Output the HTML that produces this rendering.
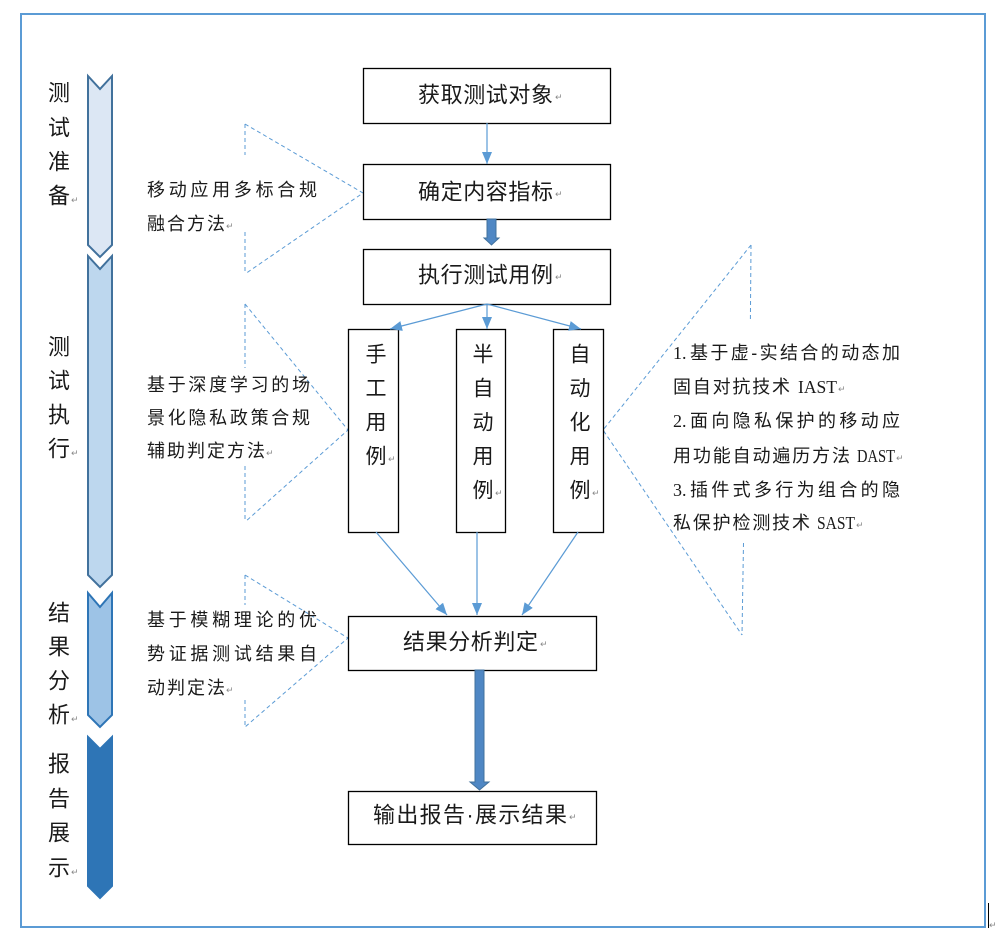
<!DOCTYPE html>
<html>
<head>
<meta charset="utf-8">
<style>
  html, body { margin: 0; padding: 0; background: #ffffff; }
  svg { display: block; }
  .cjk { font-family: "Liberation Sans", "Noto Sans CJK SC", sans-serif; fill: #1a1a1a; }
  .ser { font-family: "Liberation Serif", "Noto Sans CJK SC", serif; fill: #1a1a1a; }
  .ret { font-family: "DejaVu Sans", sans-serif; fill: #888; font-size: 9px; }
</style>
</head>
<body>
<svg width="1001" height="941" viewBox="0 0 1001 941" xmlns="http://www.w3.org/2000/svg">
  <defs>
    <marker id="ah" markerUnits="userSpaceOnUse" markerWidth="12" markerHeight="10" refX="12" refY="5" orient="auto">
      <path d="M0,0 L12,5 L0,10 z" fill="#5b9bd5"/>
    </marker>
  </defs>

  <!-- outer frame -->
  <rect x="21" y="14" width="964" height="913" fill="none" stroke="#5b9bd5" stroke-width="2"/>
  <line x1="988.5" y1="903" x2="988.5" y2="928" stroke="#000" stroke-width="1"/>
  <text x="989" y="928" class="ret">↵</text>

  <!-- left chevrons -->
  <polygon points="88,76 100,89 112,76 112,245 100,257 88,245" fill="#dce7f4" stroke="#41719c" stroke-width="2"/>
  <polygon points="88,256 100,269 112,256 112,575 100,587 88,575" fill="#bdd7ee" stroke="#41719c" stroke-width="2"/>
  <polygon points="88,593 100,607 112,593 112,715 100,727 88,715" fill="#9dc3e6" stroke="#2e75b6" stroke-width="2"/>
  <polygon points="88,737 100,749 112,737 112,886 100,898 88,886" fill="#2e75b6" stroke="#2e75b6" stroke-width="2"/>

  <!-- left vertical labels -->
  <g class="cjk" font-size="22" text-anchor="middle" dominant-baseline="central">
    <text x="59" y="93">测</text><text x="59" y="128">试</text><text x="59" y="162">准</text><text x="59" y="196">备</text>
    <text x="59" y="347">测</text><text x="59" y="381">试</text><text x="59" y="415">执</text><text x="59" y="449">行</text>
    <text x="59" y="613">结</text><text x="59" y="647">果</text><text x="59" y="681">分</text><text x="59" y="715">析</text>
    <text x="59" y="764">报</text><text x="59" y="799">告</text><text x="59" y="833">展</text><text x="59" y="868">示</text>
  </g>
  <text x="71" y="203" class="ret">↵</text>
  <text x="71" y="456" class="ret">↵</text>
  <text x="71" y="722" class="ret">↵</text>
  <text x="71" y="875" class="ret">↵</text>

  <!-- dashed callout triangles -->
  <g fill="none" stroke="#5b9bd5" stroke-width="1" stroke-dasharray="4 3">
    <polyline points="245,124 363,193 245,274"/>
    <line x1="245" y1="124" x2="245" y2="155"/>
    <line x1="245" y1="232" x2="245" y2="274"/>

    <polyline points="245,304 348,430 245,522"/>
    <line x1="245" y1="304" x2="245" y2="368"/>
    <line x1="245" y1="466" x2="245" y2="522"/>

    <polyline points="245,575 348,638 245,727"/>
    <line x1="245" y1="575" x2="245" y2="605"/>
    <line x1="245" y1="700" x2="245" y2="727"/>

    <polyline points="751,245 603,430 742,635"/>
    <line x1="751" y1="245" x2="750.4" y2="320"/>
    <line x1="743.5" y1="543" x2="742" y2="635"/>
  </g>

  <!-- left description texts -->
  <g class="cjk" font-size="18" dominant-baseline="central">
    <text x="147" y="190" textLength="170" lengthAdjust="spacing">移动应用多标合规</text>
    <text x="147" y="224" textLength="78" lengthAdjust="spacing">融合方法</text>
    <text x="147" y="385" textLength="163" lengthAdjust="spacing">基于深度学习的场</text>
    <text x="147" y="418" textLength="163" lengthAdjust="spacing">景化隐私政策合规</text>
    <text x="147" y="451" textLength="118" lengthAdjust="spacing">辅助判定方法</text>
    <text x="147" y="620" textLength="170" lengthAdjust="spacing">基于模糊理论的优</text>
    <text x="147" y="654" textLength="170" lengthAdjust="spacing">势证据测试结果自</text>
    <text x="147" y="688" textLength="78" lengthAdjust="spacing">动判定法</text>
  </g>
  <text x="226" y="229" class="ret">↵</text>
  <text x="266" y="456" class="ret">↵</text>
  <text x="226" y="693" class="ret">↵</text>

  <!-- right description texts -->
  <g class="ser" font-size="18" dominant-baseline="central">
    <text x="673" y="353">1.</text>
    <text x="673" y="421">2.</text>
    <text x="673" y="490">3.</text>
    <text x="798" y="387" textLength="39" lengthAdjust="spacingAndGlyphs">IAST</text>
    <text x="857" y="456" textLength="38" lengthAdjust="spacingAndGlyphs">DAST</text>
    <text x="817" y="523" textLength="38" lengthAdjust="spacingAndGlyphs">SAST</text>
  </g>
  <g class="cjk" font-size="18" dominant-baseline="central">
    <text x="690" y="353" textLength="210" lengthAdjust="spacing">基于虚-实结合的动态加</text>
    <text x="673" y="387" textLength="117" lengthAdjust="spacing">固自对抗技术</text>
    <text x="690" y="421" textLength="210" lengthAdjust="spacing">面向隐私保护的移动应</text>
    <text x="673" y="456" textLength="177" lengthAdjust="spacing">用功能自动遍历方法</text>
    <text x="690" y="490" textLength="210" lengthAdjust="spacing">插件式多行为组合的隐</text>
    <text x="673" y="523" textLength="137" lengthAdjust="spacing">私保护检测技术</text>
  </g>
  <text x="838" y="392" class="ret">↵</text>
  <text x="896" y="461" class="ret">↵</text>
  <text x="856" y="528" class="ret">↵</text>

  <!-- boxes -->
  <g fill="#fff" stroke="#000" stroke-width="1.3">
    <rect x="363.5" y="68.5" width="247" height="55"/>
    <rect x="363.5" y="164.5" width="247" height="55"/>
    <rect x="363.5" y="249.5" width="247" height="55"/>
    <rect x="348.5" y="329.5" width="50" height="203"/>
    <rect x="456.5" y="329.5" width="49" height="203"/>
    <rect x="553.5" y="329.5" width="50" height="203"/>
    <rect x="348.5" y="616.5" width="248" height="54"/>
    <rect x="348.5" y="791.5" width="248" height="53"/>
  </g>

  <!-- box labels -->
  <g class="cjk" font-size="22" dominant-baseline="central">
    <text x="418" y="95" textLength="135" lengthAdjust="spacing">获取测试对象</text>
    <text x="418" y="192" textLength="135" lengthAdjust="spacing">确定内容指标</text>
    <text x="418" y="275" textLength="135" lengthAdjust="spacing">执行测试用例</text>
    <text x="403" y="642" textLength="135" lengthAdjust="spacing">结果分析判定</text>
    <text x="373" y="815" textLength="194" lengthAdjust="spacing">输出报告·展示结果</text>
  </g>
  <text x="555" y="100" class="ret">↵</text>
  <text x="555" y="197" class="ret">↵</text>
  <text x="555" y="280" class="ret">↵</text>
  <text x="540" y="647" class="ret">↵</text>
  <text x="569" y="820" class="ret">↵</text>

  <!-- vertical labels in small boxes -->
  <g class="cjk" font-size="21" text-anchor="middle" dominant-baseline="central">
    <text x="376" y="355">手</text><text x="376" y="389">工</text><text x="376" y="423">用</text><text x="376" y="457">例</text>
    <text x="483" y="355">半</text><text x="483" y="389">自</text><text x="483" y="423">动</text><text x="483" y="457">用</text><text x="483" y="491">例</text>
    <text x="580" y="355">自</text><text x="580" y="389">动</text><text x="580" y="423">化</text><text x="580" y="457">用</text><text x="580" y="491">例</text>
  </g>
  <text x="388" y="462" class="ret">↵</text>
  <text x="495" y="496" class="ret">↵</text>
  <text x="592" y="496" class="ret">↵</text>

  <!-- thin arrows -->
  <g stroke="#5b9bd5" stroke-width="1.2" fill="none">
    <line x1="487" y1="123" x2="487" y2="164" marker-end="url(#ah)"/>
    <line x1="487" y1="304" x2="390" y2="329" marker-end="url(#ah)"/>
    <line x1="487" y1="304" x2="487" y2="329" marker-end="url(#ah)"/>
    <line x1="487" y1="304" x2="581" y2="329" marker-end="url(#ah)"/>
    <line x1="376" y1="532" x2="447" y2="615" marker-end="url(#ah)"/>
    <line x1="477" y1="532" x2="477" y2="615" marker-end="url(#ah)"/>
    <line x1="578" y1="532" x2="522" y2="615" marker-end="url(#ah)"/>
  </g>

  <!-- thick arrows -->
  <polygon points="487,219 496,219 496,238 499,238 491.5,245 484,238 487,238" fill="#4f87c4" stroke="#41719c" stroke-width="1"/>
  <polygon points="475,670 484,670 484,782 489,782 479.5,790 470,782 475,782" fill="#4f87c4" stroke="#41719c" stroke-width="1"/>
</svg>
</body>
</html>
